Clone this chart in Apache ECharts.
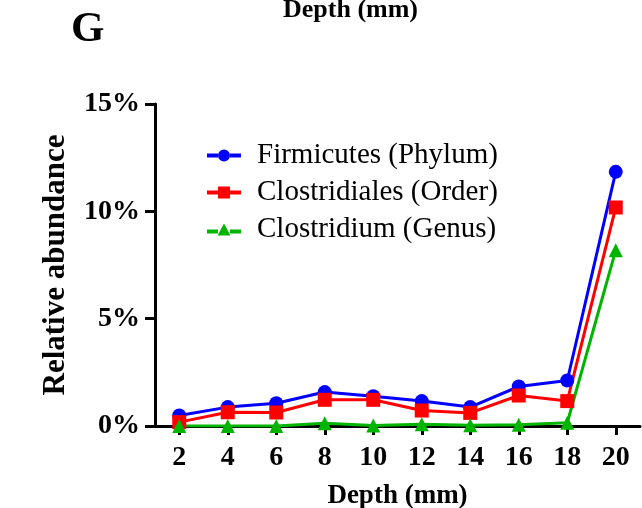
<!DOCTYPE html>
<html>
<head>
    <meta charset="utf-8">
    <title>Relative abundance</title>
    <script src="https://cdn.jsdelivr.net/npm/echarts@6/dist/echarts.min.js"></script>
    <style>
        body { margin: 0; background: #fff; }
        #main { width: 642px; height: 508px; }
    </style>
</head>
<body>
<div id="main"></div>
<script type="text/javascript">
    // data (values in %)
    var depths = [2, 4, 6, 8, 10, 12, 14, 16, 18, 20];
    var firmicutes = [0.49, 0.88, 1.06, 1.58, 1.39, 1.16, 0.88, 1.84, 2.12, 11.84];
    var clostridiales = [0.18, 0.64, 0.63, 1.22, 1.22, 0.72, 0.61, 1.42, 1.16, 10.18];
    var clostridium = [0.0, 0.0, 0.0, 0.13, 0.02, 0.08, 0.03, 0.06, 0.15, 8.19];
    var seriesNames = ['Firmicutes (Phylum)', 'Clostridiales (Order)', 'Clostridium (Genus)'];
    var yTicks = [0, 5, 10, 15];

    var serif = '"Liberation Serif", "DejaVu Serif", serif';

    // legend icons: thick line with the marker in the middle (34 x 12 box)
    var legendIcons = [
        'path://M0,4h11v4h-11z M23,4h11v4h-11z M17,0a6,6 0 1,1 -0.01,0z',
        'path://M0,4h11v4h-11z M23,4h11v4h-11z M11,0h12v12h-12z',
        'path://M0,6h11v4h-11z M23,6h11v4h-11z M17,0L23.5,12L10.5,12z'
    ];

    function pairs(vals) {
        var out = [];
        for (var i = 0; i < depths.length; i++) {
            out.push([depths[i], vals[i]]);
        }
        return out;
    }

    function lineSeries(name, vals, color, symbol) {
        return {
            name: name,
            type: 'line',
            data: pairs(vals),
            symbol: symbol,
            symbolSize: 14,
            color: color,
            lineStyle: { width: 3, color: color },
            itemStyle: { color: color },
            emphasis: { disabled: true }
        };
    }

    var legendData = [];
    for (var k = 0; k < seriesNames.length; k++) {
        legendData.push({ name: seriesNames[k], icon: legendIcons[k] });
    }

    var myChart = echarts.init(document.getElementById('main'));

    var option = {
        animation: false,
        grid: { left: 155, right: 2, top: 104, bottom: 82, outerBoundsMode: 'none' },
        legend: {
            orient: 'vertical',
            left: 202,
            top: 135,
            itemWidth: 34,
            itemHeight: 12,
            itemGap: 6,
            data: legendData,
            textStyle: {
                fontFamily: serif,
                fontSize: 29,
                color: '#000',
                lineHeight: 31,
                padding: [0, 0, 0, 11]
            }
        },
        graphic: [
            {
                type: 'text', left: 71, top: 8,
                style: { text: 'G', font: 'bold 43px ' + serif, fill: '#000' }
            },
            {
                // remnant of the panel above, cut by the top edge
                type: 'text', left: 283, top: -3,
                style: { text: 'Depth (mm)', font: 'bold 26px ' + serif, fill: '#000' }
            }
        ],
        xAxis: {
            type: 'value',
            min: 1,
            max: 21,
            name: 'Depth (mm)',
            nameLocation: 'middle',
            nameGap: 57,
            nameTextStyle: { fontFamily: serif, fontWeight: 'bold', fontSize: 27, color: '#000' },
            splitLine: { show: false },
            axisLine: { lineStyle: { color: '#000', width: 3 } },
            axisTick: { customValues: depths, length: 9, lineStyle: { color: '#000', width: 3 } },
            axisLabel: {
                customValues: depths,
                margin: 18,
                fontFamily: serif, fontWeight: 'bold', fontSize: 28, color: '#000'
            }
        },
        yAxis: {
            type: 'value',
            min: 0,
            max: 15,
            interval: 5,
            name: 'Relative abundance',
            nameLocation: 'middle',
            nameRotate: 90,
            nameGap: 84,
            nameTextStyle: { fontFamily: serif, fontWeight: 'bold', fontSize: 31, color: '#000' },
            splitLine: { show: false },
            axisLine: { show: true, lineStyle: { color: '#000', width: 3 } },
            axisTick: { show: true, length: 10, lineStyle: { color: '#000', width: 3 } },
            axisLabel: {
                customValues: yTicks,
                margin: 15,
                formatter: '{value}%',
                fontFamily: serif, fontWeight: 'bold', fontSize: 28, color: '#000'
            }
        },
        series: [
            lineSeries(seriesNames[0], firmicutes, '#0000ff', 'circle'),
            lineSeries(seriesNames[1], clostridiales, '#ff0000', 'rect'),
            lineSeries(seriesNames[2], clostridium, '#00b400', 'triangle')
        ]
    };

    myChart.setOption(option);
</script>
</body>
</html>
